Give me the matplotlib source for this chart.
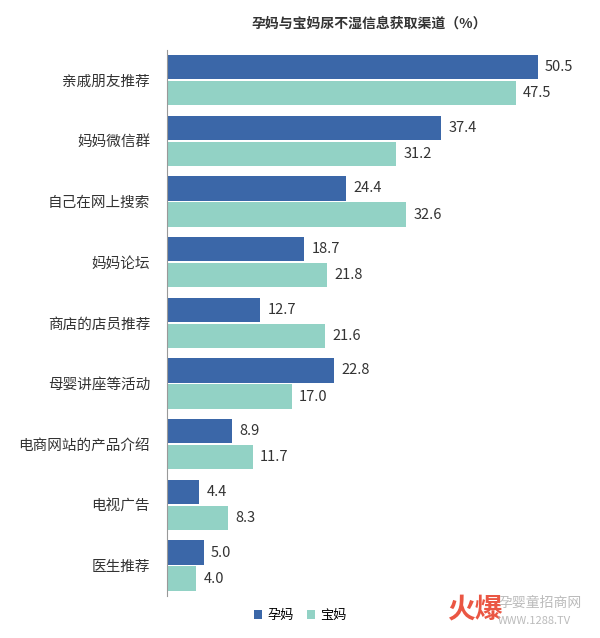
import matplotlib.pyplot as plt
import numpy as np

plt.rcParams["font.family"] = "Noto Sans CJK SC"

categories = ["亲戚朋友推荐", "妈妈微信群", "自己在网上搜索", "妈妈论坛", "商店的店员推荐",
              "母婴讲座等活动", "电商网站的产品介绍", "电视广告", "医生推荐"]
pregnant = [50.5, 37.4, 24.4, 18.7, 12.7, 22.8, 8.9, 4.4, 5.0]
mothers = [47.5, 31.2, 32.6, 21.8, 21.6, 17.0, 11.7, 8.3, 4.0]
series_names = ["孕妈", "宝妈"]

c1, c2 = "#3b67a8", "#92d2c5"

fig = plt.figure(figsize=(6, 6.38), dpi=100)
ax = fig.add_axes([0.278, 0.066, 0.705, 0.856])

y = np.arange(len(categories))
h = 0.40
b1 = ax.barh(y - 0.215, pregnant, h, color=c1, label=series_names[0])
b2 = ax.barh(y + 0.215, mothers, h, color=c2, label=series_names[1])
for bars, vals in ((b1, pregnant), (b2, mothers)):
    for bar, v in zip(bars, vals):
        ax.text(v + 1.0, bar.get_y() + bar.get_height() / 2, f"{v:.1f}",
                va="center", ha="left", fontsize=10.5, color="#333333")

ax.set_xlim(0, 57.6)
ax.set_ylim(len(categories) - 0.5, -0.5)
ax.set_yticks(y)
ax.set_yticklabels(categories, fontsize=10.5, color="#333333")
ax.tick_params(axis="y", length=0, pad=12)
ax.set_xticks([])
for s in ("top", "right", "bottom"):
    ax.spines[s].set_visible(False)
ax.spines["left"].set_color("#999999")

fig.text(0.615, 0.963, "孕妈与宝妈尿不湿信息获取渠道（%）", ha="center", va="center",
         fontsize=10, fontweight="bold", color="#333333")

fig.legend(loc="center", bbox_to_anchor=(0.5, 0.035), ncol=2, frameon=False,
           fontsize=9.5, handlelength=0.6, handleheight=0.6, columnspacing=1.0,
           handletextpad=0.4)

# watermark
fig.text(0.745, 0.045, "火爆", color="#e8432e", fontsize=20, fontweight="bold",
         ha="left", va="center", alpha=0.9)
fig.text(0.83, 0.055, "孕婴童招商网", color="#bbbbbb", fontsize=10, ha="left", va="center")
fig.text(0.83, 0.027, "WWW.1288.TV", color="#bbbbbb", fontsize=8, ha="left", va="center")

fig.savefig("out.png", dpi=100)
